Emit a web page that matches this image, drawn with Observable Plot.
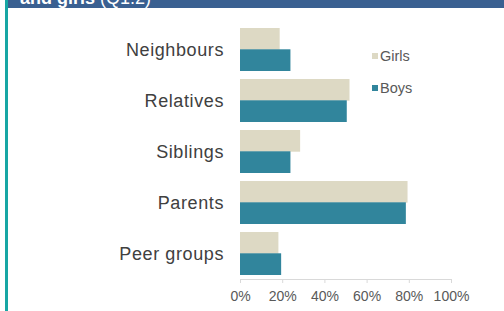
<!DOCTYPE html>
<html>
<head>
<meta charset="utf-8">
<script src="https://cdn.jsdelivr.net/npm/d3@7"></script>
<script src="https://cdn.jsdelivr.net/npm/@observablehq/plot@0.6"></script>
<style>
  html, body { margin: 0; padding: 0; background: #fff; }
  #wrap { position: relative; width: 504px; height: 311px; overflow: hidden; font-family: "Liberation Sans", Arial, sans-serif; }
  #header { position: absolute; left: 8px; top: 0; width: 496px; height: 8px; background: #3a6091; overflow: hidden; }
  #header span { position: absolute; left: 12px; top: -11px; line-height: 18px; font-size: 18px; color: #fff; white-space: nowrap; }
  #border { position: absolute; left: 5px; top: 0; width: 3px; height: 311px; background: #17a6a4; }
  #chart { position: absolute; left: 0; top: 0; }
  #chart g[aria-label="y-axis tick label"] text { letter-spacing: 0.6px; }
  .leg { position: absolute; font-size: 14.5px; color: #595959; line-height: 16px; white-space: nowrap; }
  .leg i { display: inline-block; width: 6px; height: 6px; margin-right: 2px; vertical-align: 2px; }
</style>
</head>
<body>
<div id="wrap">
  <div id="chart"></div>
  <div id="header"><span><b>and girls</b> (Q1.2)</span></div>
  <div id="border"></div>
  <div class="leg" style="left:372px; top:48px;"><i style="background:#ddd9c4"></i>Girls</div>
  <div class="leg" style="left:372px; top:80px;"><i style="background:#31859c"></i>Boys</div>
</div>
<script>
const categories = ["Neighbours", "Relatives", "Siblings", "Parents", "Peer groups"];
const girls = [0.188, 0.519, 0.285, 0.794, 0.182];
const boys  = [0.239, 0.506, 0.239, 0.786, 0.195];
const xTicks = [0, 0.2, 0.4, 0.6, 0.8, 1.0];
const girlsColor = "#ddd9c4";
const boysColor = "#31859c";

const girlsData = categories.map((c, i) => ({category: c, value: girls[i]}));
const boysData = categories.map((c, i) => ({category: c, value: boys[i]}));

const half = 21.3;

const plot = Plot.plot({
  width: 504,
  height: 311,
  marginLeft: 240,
  marginRight: 53,
  marginTop: 19,
  marginBottom: 32,
  style: {fontFamily: "'Liberation Sans', Arial, sans-serif", background: "transparent", overflow: "visible"},
  x: {domain: [0, 1]},
  y: {domain: categories, range: [19.5, 284], padding: 0.166},
  marks: [
    Plot.barX(girlsData, {x: "value", y: "category", fill: girlsColor, insetBottom: half}),
    Plot.barX(boysData, {x: "value", y: "category", fill: boysColor, insetTop: half}),
    Plot.frame({anchor: "bottom", stroke: "#d9d9d9"}),
    Plot.axisX({ticks: xTicks, tickSize: 4, stroke: "#d9d9d9", tickFormat: () => "", label: null}),
    Plot.axisX({ticks: xTicks, tickSize: 0, tickPadding: 12, tickFormat: ".0%", fontSize: 14, fill: "#595959", label: null}),
    Plot.axisY({tickSize: 0, tickPadding: 16.5, fontSize: 18, fill: "#404040", label: null})
  ]
});
document.getElementById("chart").appendChild(plot);
</script>
</body>
</html>
